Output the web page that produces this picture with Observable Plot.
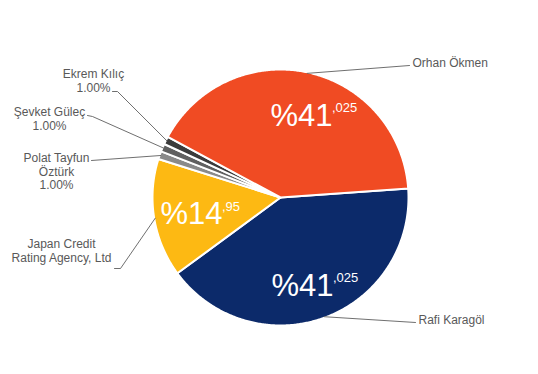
<!DOCTYPE html>
<html><head><meta charset="utf-8">
<script src="https://cdn.jsdelivr.net/npm/d3@7"></script>
<script src="https://cdn.jsdelivr.net/npm/@observablehq/plot@0.6"></script>
<style>body{margin:0;background:#fff}</style>
</head><body><div id="chart"></div>
<script>
// ---- data ----
const names = ["Rafi Karagöl", "Japan Credit Rating Agency, Ltd", "Polat Tayfun Öztürk", "Şevket Güleç", "Ekrem Kılıç", "Orhan Ökmen"];
const values = [41.025, 14.95, 1.00, 1.00, 1.00, 41.025];
const labelTexts = ["Rafi Karagöl", "Japan Credit\nRating Agency, Ltd", "Polat Tayfun\nÖztürk", "Şevket Güleç", "Ekrem Kılıç", "Orhan Ökmen"];
const showPercentInLabel = [false, false, true, true, true, false];
const showInside = [true, true, false, false, false, true];

// ---- style / layout ----
const colors = ["#0c2a6a", "#fdb913", "#8a8a8a", "#606060", "#3b3b3b", "#f04b23"];
const W = 538, H = 374, cx = 280, cy = 197, R = 128;
const startDeg = 86;
const labelLayout = [
  {x: 418, y: 323, anchor: "start", path: [[415, 322]]},
  {x: 61, y: 247, anchor: "middle", path: [[120, 268], [114, 268]]},
  {x: 56, y: 161, anchor: "middle", path: [[91, 160]]},
  {x: 49, y: 115, anchor: "middle", path: [[92, 116], [87, 115]]},
  {x: 93, y: 77, anchor: "middle", path: [[117, 91], [112, 91]]},
  {x: 412, y: 66, anchor: "start", path: [[409, 65]]}
];
const insideLayout = [{x: 333, y: 295}, {x: 222, y: 223.5}, null, null, null, {x: 332, y: 125}];

// ---- geometry from data ----
const rad = Math.PI / 180;
const arcs = d3.pie().sort(null).startAngle(startDeg * rad).endAngle((startDeg + 360) * rad)(values);
const pt = (a, r) => ({x: cx + r * Math.sin(a), y: cy - r * Math.cos(a)});

const slicePoints = [];
arcs.forEach((a, i) => {
  const name = names[i], color = colors[i];
  slicePoints.push({name, color, x: cx, y: cy});
  const n = Math.max(2, Math.ceil((a.endAngle - a.startAngle) / (0.5 * rad)));
  for (let k = 0; k <= n; k++) {
    const t = a.startAngle + (a.endAngle - a.startAngle) * k / n;
    slicePoints.push({name, color, ...pt(t, R)});
  }
  slicePoints.push({name, color, x: cx, y: cy});
});

const leaderPoints = [];
arcs.forEach((a, i) => {
  const mid = (a.startAngle + a.endAngle) / 2;
  leaderPoints.push({name: names[i], ...pt(mid, R - 1)});
  labelLayout[i].path.forEach(([x, y]) => leaderPoints.push({name: names[i], x, y}));
});

const outsideLabels = names.map((name, i) => ({
  name,
  text: labelTexts[i] + (showPercentInLabel[i] ? "\n" + values[i].toFixed(2) + "%" : ""),
  x: labelLayout[i].x,
  y: labelLayout[i].y - 8.5,
  anchor: labelLayout[i].anchor
}));

const insideLabels = names.map((name, i) => {
  if (!showInside[i]) return null;
  const [ip, dp] = String(values[i]).split(".");
  return {name, main: "%" + ip, sup: "," + dp, x: insideLayout[i].x, y: insideLayout[i].y};
}).filter(d => d);

const chart = Plot.plot({
  width: W, height: H, margin: 0,
  x: {domain: [0, W], range: [0, W], axis: null},
  y: {domain: [0, H], range: [0, H], axis: null},
  color: {type: "identity"},
  style: {fontFamily: "'Liberation Sans', Arial, sans-serif", background: "#fff"},
  marks: [
    Plot.line(slicePoints, {x: "x", y: "y", z: "name", fill: "color", stroke: "#fff", strokeWidth: 2, strokeLinejoin: "round", curve: "linear"}),
    Plot.line(leaderPoints, {x: "x", y: "y", z: "name", stroke: "#5f5f5f", strokeWidth: 0.9}),
    Plot.text(outsideLabels, {filter: d => d.anchor === "start", x: "x", y: "y", text: "text", textAnchor: "start", lineAnchor: "top", lineHeight: 1.1, fontSize: 12, fill: "#595959"}),
    Plot.text(outsideLabels, {filter: d => d.anchor === "middle", x: "x", y: "y", text: "text", textAnchor: "middle", lineAnchor: "top", lineHeight: 1.1, fontSize: 12, fill: "#595959"}),
    Plot.text(insideLabels, {x: "x", y: "y", text: "main", textAnchor: "end", lineAnchor: "bottom", fontSize: 31, fill: "#fff"}),
    Plot.text(insideLabels, {x: d => d.x - 0.5, y: d => d.y - 13.5, text: "sup", textAnchor: "start", lineAnchor: "bottom", fontSize: 13, fill: "#fff"})
  ]
});
document.getElementById("chart").appendChild(chart);
</script>
</body></html>
